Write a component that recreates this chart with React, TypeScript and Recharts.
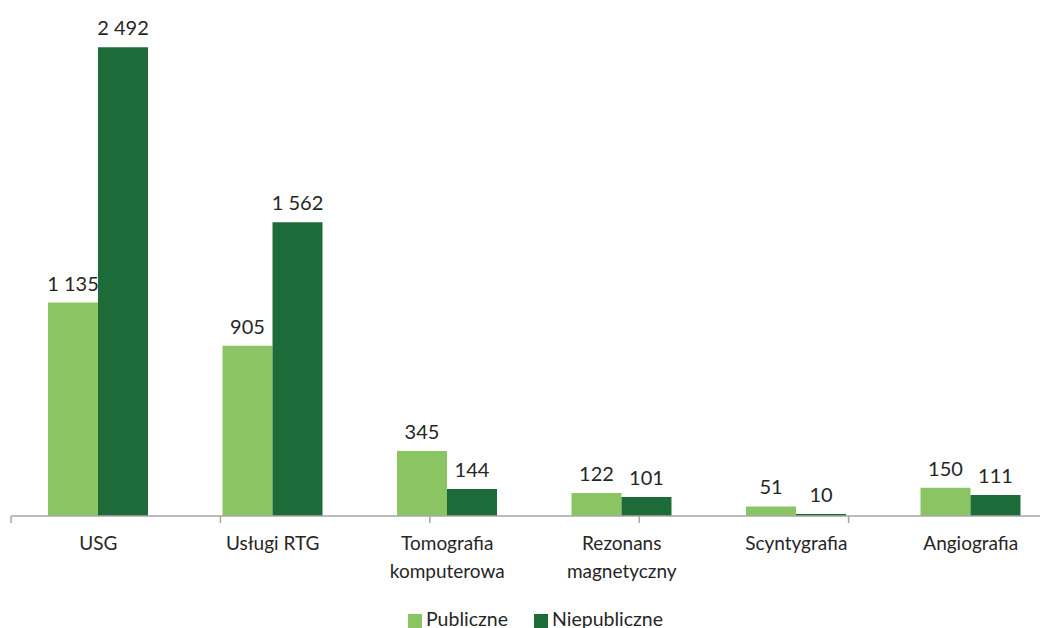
import { BarChart, Bar, XAxis, YAxis, Legend, LabelList, Text } from "recharts";

const categories = [
  "USG",
  "Usługi RTG",
  "Tomografia komputerowa",
  "Rezonans magnetyczny",
  "Scyntygrafia",
  "Angiografia",
];
const publiczne = [1135, 905, 345, 122, 51, 150];
const niepubliczne = [2492, 1562, 144, 101, 10, 111];

const seriesNames = ["Publiczne", "Niepubliczne"];
const lightGreen = "#8bc563";
const darkGreen = "#1e6b3a";
const textColor = "#262626";
const font = "Lato, 'Open Sans', sans-serif";

const data = categories.map((name, i) => ({
  name,
  pub: publiczne[i],
  niepub: niepubliczne[i],
}));

// 2492 -> "2 492"
const fmt = (v: any) => String(v).replace(/\B(?=(\d{3})+(?!\d))/g, " ");

const CategoryTick = (props: any) => {
  const { x, y, payload } = props;
  return (
    <Text
      x={x}
      y={y}
      width={150}
      textAnchor="middle"
      verticalAnchor="start"
      lineHeight={28}
      fontSize={19}
      fontFamily={font}
      fill={textColor}
    >
      {payload.value}
    </Text>
  );
};

export default function App() {
  return (
    <div style={{ width: 1040 }}>
      <style>{`html, body { overflow: hidden; }`}</style>
      {/* the last category runs past the right edge, as in the source picture */}
      <BarChart
        width={1040}
        height={620}
        data={data}
        margin={{ top: 19, right: -10, left: 3, bottom: 0 }}
        barCategoryGap={37}
        barGap={0}
      >
        <XAxis
          xAxisId="a"
          type="number"
          domain={[0, 6]}
          ticks={[0, 1, 2, 3, 4, 5, 6]}
          allowDataOverflow
          tickFormatter={() => ""}
          tickSize={7}
          height={1}
          axisLine={{ stroke: "#a6a6a6", strokeWidth: 1.5 }}
          tickLine={{ stroke: "#a6a6a6", strokeWidth: 1.5 }}
        />
        <XAxis
          xAxisId="b"
          dataKey="name"
          axisLine={false}
          tickLine={false}
          tickSize={0}
          tickMargin={20}
          height={88}
          interval={0}
          tick={<CategoryTick />}
        />
        <YAxis hide domain={[0, 2600]} />
        <Legend
          verticalAlign="bottom"
          iconType="square"
          iconSize={14}
          itemSorter={(item: any) => seriesNames.indexOf(item.value)}
          wrapperStyle={{
            fontFamily: font,
            fontSize: 19.5,
            lineHeight: "23px",
            top: 599,
            bottom: "auto",
            paddingLeft: 12,
            boxSizing: "border-box",
          }}
          formatter={(v: any, _e: any, i: number) => (
            <span style={{ color: textColor, marginRight: i === 0 ? 16 : 0 }}>{v}</span>
          )}
        />
        <Bar xAxisId="b" dataKey="pub" name={seriesNames[0]} fill={lightGreen} isAnimationActive={false}>
          <LabelList
            dataKey="pub"
            position="top"
            offset={12}
            formatter={fmt}
            style={{ fontSize: 20, fontFamily: font, fill: textColor }}
          />
        </Bar>
        <Bar xAxisId="b" dataKey="niepub" name={seriesNames[1]} fill={darkGreen} isAnimationActive={false}>
          <LabelList
            dataKey="niepub"
            position="top"
            offset={12}
            formatter={fmt}
            style={{ fontSize: 20, fontFamily: font, fill: textColor }}
          />
        </Bar>
      </BarChart>
    </div>
  );
}
